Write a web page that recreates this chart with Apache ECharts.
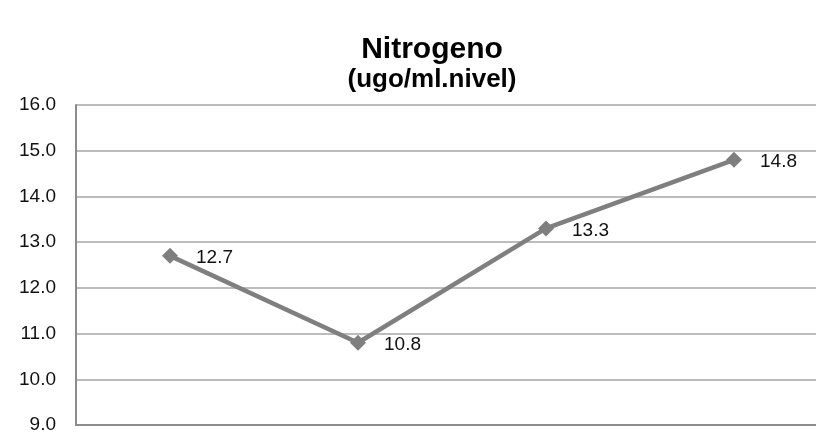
<!DOCTYPE html>
<html><head><meta charset="utf-8">
<script src="https://cdn.jsdelivr.net/npm/echarts@6/dist/echarts.min.js"></script>
<style>html,body{margin:0;padding:0;background:#fff}#c{width:816px;height:439px}</style>
</head><body><div id="c"></div>
<script>
const categories = ["1", "2", "3", "4"];
const values = [12.7, 10.8, 13.3, 14.8];
const titleText = "Nitrogeno";
const subtitleText = "(ugo/ml.nivel)";

const chart = echarts.init(document.getElementById('c'), null, {renderer: 'canvas'});
chart.setOption({
  animation: false,
  backgroundColor: '#ffffff',
  title: {
    text: titleText,
    subtext: subtitleText,
    left: 427,
    textAlign: 'center',
    top: 30,
    itemGap: 2,
    textStyle: {fontFamily: 'Liberation Sans, Arial', fontWeight: 'bold', fontSize: 30, color: '#000'},
    subtextStyle: {fontFamily: 'Liberation Sans, Arial', fontWeight: 'bold', fontSize: 26, color: '#000'}
  },
  grid: {left: 76, width: 752, top: 105, bottom: 14, containLabel: false, outerBoundsMode: 'none'},
  xAxis: {
    type: 'category',
    data: categories,
    boundaryGap: true,
    axisLine: {show: true, lineStyle: {color: '#8c8c8c', width: 2}},
    axisTick: {show: false},
    axisLabel: {show: false},
    splitLine: {show: false}
  },
  yAxis: {
    type: 'value',
    min: 9,
    max: 16,
    interval: 1,
    axisLine: {show: true, lineStyle: {color: '#8c8c8c', width: 2}},
    axisTick: {show: false},
    axisLabel: {
      formatter: v => v.toFixed(1),
      fontFamily: 'Liberation Sans, Arial',
      fontSize: 19,
      color: '#111',
      margin: 20
    },
    splitLine: {show: true, lineStyle: {color: '#a6a6a6', width: 1.5}}
  },
  series: [{
    type: 'line',
    data: values,
    symbol: 'diamond',
    symbolSize: 16,
    lineStyle: {color: '#7f7f7f', width: 4.5},
    itemStyle: {color: '#7f7f7f'},
    label: {
      show: true,
      position: 'right',
      distance: 18,
      offset: [0, 2],
      formatter: p => p.value.toFixed(1),
      fontFamily: 'Liberation Sans, Arial',
      fontSize: 19,
      color: '#111'
    }
  }]
});
</script></body></html>
